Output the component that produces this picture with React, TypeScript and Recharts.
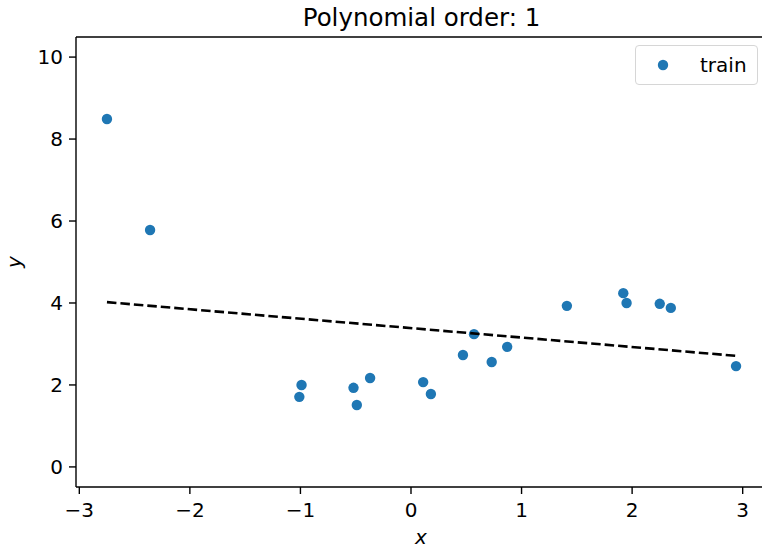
import { ReferenceLine, Scatter, ScatterChart, XAxis, YAxis } from 'recharts';

const trainX = [
  -2.75, -2.36, -1.01, -0.99, -0.52, -0.49, -0.37, 0.11, 0.18, 0.47,
  0.57, 0.73, 0.87, 1.41, 1.92, 1.95, 2.25, 2.35, 2.94,
];
const trainY = [
  8.49, 5.78, 1.71, 2.0, 1.93, 1.51, 2.17, 2.07, 1.78, 2.73,
  3.24, 2.56, 2.93, 3.93, 4.24, 4.0, 3.98, 3.88, 2.46,
];
const fitX = [-2.75, 2.94];
const fitY = [4.02, 2.71];
const xTicks = [-3, -2, -1, 0, 1, 2, 3];
const yTicks = [0, 2, 4, 6, 8, 10];

const train = trainX.map((x, i) => ({ x, y: trainY[i] }));
const fit = fitX.map((x, i) => ({ x, y: fitY[i] }));

const FONT = '"DejaVu Sans", sans-serif';
const fmt = (v: number) => String(v).replace('-', '\u2212');
const Y_MAX = 10.49;

const Dot = (props: any) => <circle cx={props.cx} cy={props.cy} r={5.2} fill="#1f77b4" />;

const LegendBox = () => (
  <div
    style={{
      position: 'absolute',
      left: 635,
      top: 45,
      border: '1px solid #d6d6d6',
      borderRadius: 4,
      background: 'rgba(255,255,255,0.8)',
      width: 123,
      height: 40,
      display: 'flex',
      alignItems: 'center',
      fontFamily: FONT,
      fontSize: 20,
      boxSizing: 'border-box',
    }}
  >
    <svg width={54} height={20}>
      <circle cx={27} cy={10} r={5.2} fill="#1f77b4" />
    </svg>
    <span style={{ marginLeft: 10 }}>train</span>
  </div>
);

export default function App() {
  return (
    <div style={{ position: 'fixed', left: 0, top: 0, width: 762, height: 550, overflow: 'hidden', background: '#fff' }}>
      <div
        style={{
          position: 'absolute',
          left: 0,
          width: 843,
          top: 3,
          textAlign: 'center',
          fontFamily: FONT,
          fontSize: 24.5,
        }}
      >
        Polynomial order: 1
      </div>
      <div
        style={{
          position: 'absolute',
          left: 421,
          top: 525,
          fontFamily: FONT,
          fontStyle: 'italic',
          fontSize: 20,
          transform: 'translateX(-50%)',
        }}
      >
        x
      </div>
      <div
        style={{
          position: 'absolute',
          left: 14,
          top: 262,
          fontFamily: FONT,
          fontStyle: 'italic',
          fontSize: 20,
          transform: 'translate(-50%, -50%) rotate(-90deg)',
        }}
      >
        y
      </div>
      <ScatterChart width={772} height={550} margin={{ top: 37, right: 5, bottom: 33, left: 0 }}>
        <XAxis
          type="number"
          dataKey="x"
          domain={[-3.03, 3.22]}
          ticks={xTicks}
          tickFormatter={fmt}
          allowDataOverflow
          height={30}
          tickSize={7}
          tickMargin={9}
          stroke="#000"
          strokeWidth={1.4}
          tick={{ fill: '#000', fontSize: 20, fontFamily: FONT }}
        />
        <YAxis
          type="number"
          dataKey="y"
          domain={[-0.49, Y_MAX]}
          ticks={yTicks}
          allowDataOverflow
          width={76}
          tickSize={7}
          tickMargin={6}
          stroke="#000"
          strokeWidth={1.4}
          tick={{ fill: '#000', fontSize: 20, fontFamily: FONT }}
        />
        <ReferenceLine y={Y_MAX} stroke="#000" strokeWidth={1.4} ifOverflow="visible" />
        <Scatter name="train" data={train} fill="#1f77b4" shape={Dot} isAnimationActive={false} />
        <Scatter
          name="fit"
          data={fit}
          legendType="none"
          shape={() => <g />}
          line={{ stroke: '#000', strokeWidth: 2.6, strokeDasharray: '9.5 4' }}
          isAnimationActive={false}
        />
      </ScatterChart>
      <LegendBox />
    </div>
  );
}
